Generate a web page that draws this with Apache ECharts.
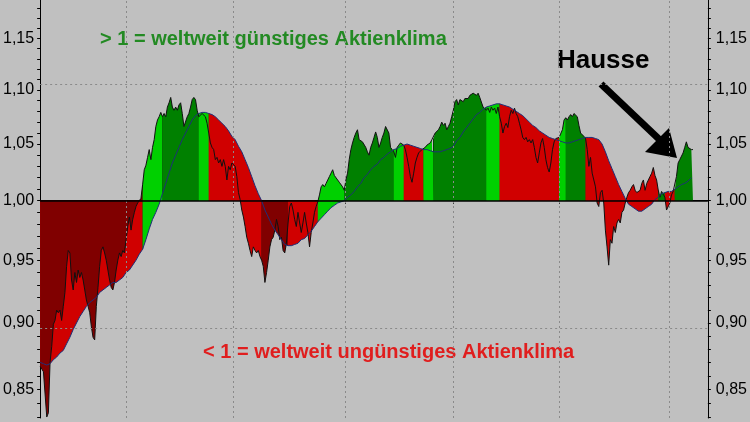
<!DOCTYPE html>
<html><head><meta charset="utf-8">
<script src="https://cdn.jsdelivr.net/npm/echarts@6/dist/echarts.min.js"></script>
<style>html,body{margin:0;padding:0;background:#c0c0c0}#c{width:750px;height:422px}</style>
</head><body><div id="c"></div>
<script>
// x is a running period index (k); raw index series starts at K_START with step 1
const K_START = 2;
const rawValues = [
0.867,0.865,0.863,0.862,0.830,0.833,0.870,0.882,0.899,0.902,
0.910,0.908,0.910,0.902,0.913,0.924,0.945,0.958,0.956,0.934,
0.926,0.940,0.932,0.942,0.936,0.940,0.934,0.926,0.918,0.913,
0.908,0.897,0.889,0.887,0.913,0.928,0.945,0.958,0.961,0.956,
0.950,0.942,0.934,0.928,0.926,0.932,0.942,0.950,0.956,0.953,
0.958,0.956,0.967,0.978,0.986,0.975,0.984,0.990,0.995,0.998,
0.999,1.002,1.014,1.027,1.031,1.038,1.045,1.036,1.047,1.054,
1.066,1.072,1.075,1.079,1.075,1.078,1.075,1.084,1.088,1.093,
1.084,1.081,1.084,1.081,1.086,1.088,1.078,1.066,1.066,1.075,
1.078,1.084,1.091,1.093,1.091,1.081,1.075,1.075,1.078,1.078,
1.075,1.069,1.060,1.051,1.047,1.045,1.036,1.038,1.033,1.036,
1.030,1.036,1.030,1.018,1.030,1.027,1.033,1.034,1.030,1.021,
1.007,1.001,0.992,0.986,0.978,0.969,0.964,0.958,0.953,0.961,
0.958,0.956,0.958,0.953,0.950,0.945,0.932,0.940,0.950,0.961,
0.967,0.969,0.975,0.984,0.978,0.967,0.969,0.958,0.956,0.964,
0.981,0.995,0.998,0.992,0.984,0.978,0.990,0.981,0.973,0.981,
0.990,0.981,0.973,0.961,0.973,0.981,0.990,0.995,0.999,1.005,
1.012,1.014,1.012,1.015,1.018,1.021,1.024,1.027,1.022,1.021,
1.018,1.016,1.015,1.012,1.009,1.018,1.024,1.036,1.045,1.051,
1.056,1.060,1.063,1.054,1.055,1.052,1.052,1.047,1.043,1.040,
1.047,1.051,1.056,1.061,1.056,1.047,1.051,1.056,1.060,1.066,
1.067,1.060,1.047,1.045,1.043,1.038,1.047,1.049,1.051,1.051,
1.049,1.045,1.038,1.030,1.021,1.016,1.024,1.033,1.038,1.042,
1.043,1.045,1.046,1.047,1.049,1.050,1.051,1.054,1.055,1.060,
1.061,1.063,1.066,1.070,1.067,1.069,1.063,1.066,1.069,1.075,
1.081,1.089,1.091,1.086,1.091,1.092,1.089,1.092,1.093,1.092,
1.095,1.095,1.097,1.098,1.095,1.097,1.093,1.093,1.084,1.083,
1.081,1.083,1.079,1.084,1.081,1.083,1.078,1.084,1.075,1.069,
1.060,1.066,1.069,1.065,1.075,1.081,1.078,1.083,1.078,1.075,
1.069,1.063,1.056,1.054,1.056,1.052,1.054,1.051,1.054,1.047,
1.038,1.033,1.042,1.051,1.055,1.047,1.036,1.029,1.025,1.033,
1.045,1.052,1.055,1.054,1.056,1.055,1.063,1.072,1.074,1.072,
1.075,1.077,1.075,1.078,1.077,1.075,1.067,1.060,1.060,1.057,
1.055,1.045,1.030,1.038,1.024,1.018,1.012,0.998,0.995,1.007,
1.009,0.998,0.975,0.961,0.946,0.967,0.964,0.978,0.973,0.981,
0.984,0.981,0.990,0.992,0.998,1.003,1.007,1.009,1.012,1.014,
1.009,1.007,1.007,1.009,1.015,1.018,1.009,1.015,1.018,1.021,
1.024,1.029,1.022,1.018,1.009,1.003,1.008,1.009,1.003,0.992,
0.991,0.998,1.005,1.008,1.009,1.021,1.033,1.036,1.037,1.042,
1.047,1.052,1.047,1.046,1.045,1.045
];
// smoothed line (moving average), every 2nd index starting at K_START
const maValues = [
0.870,0.869,0.868,0.869,0.872,0.874,0.877,0.879,0.884,0.889,
0.895,0.900,0.905,0.909,0.913,0.916,0.918,0.920,0.924,0.926,
0.928,0.930,0.932,0.932,0.934,0.936,0.940,0.942,0.946,0.950,
0.955,0.959,0.967,0.976,0.984,0.990,0.997,1.006,1.015,1.024,
1.033,1.040,1.047,1.054,1.060,1.066,1.072,1.076,1.078,1.079,
1.079,1.078,1.077,1.075,1.072,1.069,1.066,1.062,1.057,1.054,
1.048,1.043,1.036,1.029,1.021,1.013,1.006,1.000,0.992,0.986,
0.980,0.975,0.971,0.967,0.963,0.962,0.962,0.963,0.964,0.967,
0.968,0.971,0.974,0.978,0.982,0.985,0.988,0.991,0.994,0.996,
0.998,0.999,1.000,1.003,1.005,1.008,1.012,1.015,1.020,1.023,
1.027,1.030,1.032,1.036,1.038,1.041,1.043,1.045,1.046,1.048,
1.049,1.050,1.049,1.048,1.047,1.046,1.045,1.045,1.044,1.043,
1.043,1.043,1.044,1.045,1.046,1.048,1.053,1.056,1.061,1.065,
1.069,1.073,1.077,1.079,1.082,1.084,1.085,1.086,1.087,1.087,
1.086,1.085,1.084,1.082,1.080,1.078,1.076,1.073,1.070,1.067,
1.065,1.062,1.060,1.058,1.056,1.055,1.054,1.053,1.052,1.051,
1.051,1.052,1.053,1.054,1.055,1.056,1.056,1.056,1.055,1.054,
1.050,1.043,1.035,1.028,1.021,1.014,1.008,1.002,0.997,0.995,
0.993,0.991,0.991,0.993,0.995,0.997,1.001,1.003,1.006,1.007,
1.008,1.008,1.010,1.012,1.014,1.015,1.017,1.020
];
// regime segments: [from k, to k, fill of smoothed-line area, fill of index area]
const segStart  = [2, 64, 76, 98, 104, 136, 152, 170, 186, 216, 222, 234, 240, 272, 280, 316, 320, 332, 376, 380, 386];
const segEnd    = [64, 76, 98, 104, 136, 152, 170, 186, 216, 222, 234, 240, 272, 280, 316, 320, 332, 376, 380, 386, 397];
const segMaCol  = ['red','ltgreen','dkgreen','ltgreen','red','maroon','red','ltgreen','dkgreen','ltgreen','red','ltgreen','dkgreen','ltgreen','red','ltgreen','dkgreen','red','dkgreen','red','dkgreen'];
const segRawCol = ['maroon','ltgreen','dkgreen','ltgreen','red','maroon','red','ltgreen','dkgreen','ltgreen','red','ltgreen','dkgreen','ltgreen','red','ltgreen','dkgreen','red','dkgreen','red','dkgreen'];
const gridX = [54.2, 119.1, 186.9, 251.7, 316.0, 382.6];
const yLabelValues = [0.85, 0.90, 0.95, 1.00, 1.05, 1.10, 1.15];
const yTickValues = [0.83,0.84,0.85,0.86,0.87,0.88,0.89,0.90,0.91,0.92,0.93,0.94,0.95,0.96,0.97,0.98,0.99,1.00,1.01,1.02,1.03,1.04,1.05,1.06,1.07,1.08,1.09,1.10,1.11,1.12,1.13,1.14,1.15,1.16,1.17,1.18];
const yGridValues = [0.90, 1.10];
const yRange = [0.8293, 1.1887];
const xRange = [2, 406];

const palette = {maroon:'#800000', red:'#d00000', dkgreen:'#008000', ltgreen:'#00d000'};
const FONT = '"Liberation Sans", Arial, sans-serif';

const rawPts = rawValues.map((v, i) => [K_START + i, Math.log(v)]);
const maPts = maValues.map((v, i) => [K_START + 2 * i, Math.log(v)]);

const series = [];
const areaBase = (data, col) => ({
  type: 'line', data, symbol: 'none', silent: true, animation: false,
  lineStyle: {width: 0, opacity: 0},
  areaStyle: {color: palette[col], opacity: 1}
});
segStart.forEach((a, i) => {
  const b = segEnd[i];
  series.push(areaBase(maPts.filter(p => p[0] >= a && p[0] <= b), segMaCol[i]));
});
segStart.forEach((a, i) => {
  const b = segEnd[i];
  series.push(areaBase(rawPts.filter(p => p[0] >= a && p[0] <= b), segRawCol[i]));
});
// boundaries between regimes
series.push({
  type: 'custom', silent: true, animation: false,
  data: segStart.slice(1).map(k => [k, 0]),
  renderItem: (params, api) => {
    const k = api.value(0);
    const r = Math.log(rawValues[k - K_START]);
    const m = Math.log(maValues[(k - K_START) / 2]);
    const lo = Math.min(0, r, m), hi = Math.max(0, r, m);
    const p1 = api.coord([k, lo]), p2 = api.coord([k, hi]);
    return {type: 'line', shape: {x1: p1[0], y1: p1[1], x2: p2[0], y2: p2[1]},
      style: {stroke: '#000', lineWidth: 1}};
  }
});
series.push({
  type: 'line', data: rawPts, symbol: 'none', silent: true, animation: false,
  lineStyle: {color: '#111', width: 1},
  markLine: {
    silent: true, symbol: ['none', 'none'], label: {show: false}, animation: false,
    lineStyle: {color: '#8a8a8a', type: [2, 3], width: 1},
    data: yGridValues.map(v => ({yAxis: Math.log(v)})).concat(gridX.map(x => ({xAxis: x})))
  }
});
series.push({
  type: 'line', data: maPts, symbol: 'none', silent: true, animation: false,
  lineStyle: {color: '#1f2f78', width: 1},
  markLine: {
    silent: true, symbol: ['none', 'none'], label: {show: false}, animation: false,
    lineStyle: {color: '#000', type: 'solid', width: 1.5},
    data: [{yAxis: 0}]
  }
});

const yAxisCfg = (pos) => ({
  type: 'value', position: pos,
  min: Math.log(yRange[0]), max: Math.log(yRange[1]),
  axisLine: {show: true, lineStyle: {color: '#000', width: 1}},
  axisTick: {show: true, length: 3, inside: false, lineStyle: {color: '#000'},
    customValues: yTickValues.map(Math.log)},
  axisLabel: {show: true, margin: pos === 'left' ? 6 : 8, color: '#000', fontSize: 16, fontFamily: FONT,
    customValues: yLabelValues.map(Math.log),
    formatter: v => Math.exp(v).toFixed(2).replace('.', ',')},
  splitLine: {show: false}
});

const chart = echarts.init(document.getElementById('c'), null, {renderer: 'canvas'});
chart.setOption({
  backgroundColor: '#c0c0c0',
  animation: false,
  grid: {left: 39, right: 38, top: 0, bottom: 4, containLabel: false},
  xAxis: {
    type: 'value', min: xRange[0], max: xRange[1],
    axisLine: {show: true, lineStyle: {color: '#000'}},
    axisTick: {show: true, length: 3, customValues: gridX, lineStyle: {color: '#000'}},
    axisLabel: {show: false},
    splitLine: {show: false}
  },
  yAxis: [yAxisCfg('left'), yAxisCfg('right')],
  series,
  graphic: [
    {type: 'text', x: 100, y: 39, silent: true,
      style: {text: '> 1 = weltweit günstiges Aktienklima', font: 'bold 20px ' + FONT, fill: '#238a23', verticalAlign: 'middle'}},
    {type: 'text', x: 203, y: 352, silent: true,
      style: {text: '< 1 = weltweit ungünstiges Aktienklima', font: 'bold 20px ' + FONT, fill: '#e01e1e', verticalAlign: 'middle'}},
    {type: 'text', x: 557, y: 61, silent: true,
      style: {text: 'Hausse', font: 'bold 26px ' + FONT, fill: '#000', verticalAlign: 'middle'}},
    {type: 'line', silent: true, shape: {x1: 601, y1: 84, x2: 661, y2: 141}, style: {stroke: '#000', lineWidth: 7}},
    {type: 'polygon', silent: true, shape: {points: [[645, 152], [669, 128], [677, 158]]}, style: {fill: '#000'}}
  ]
});
</script>
</body></html>
